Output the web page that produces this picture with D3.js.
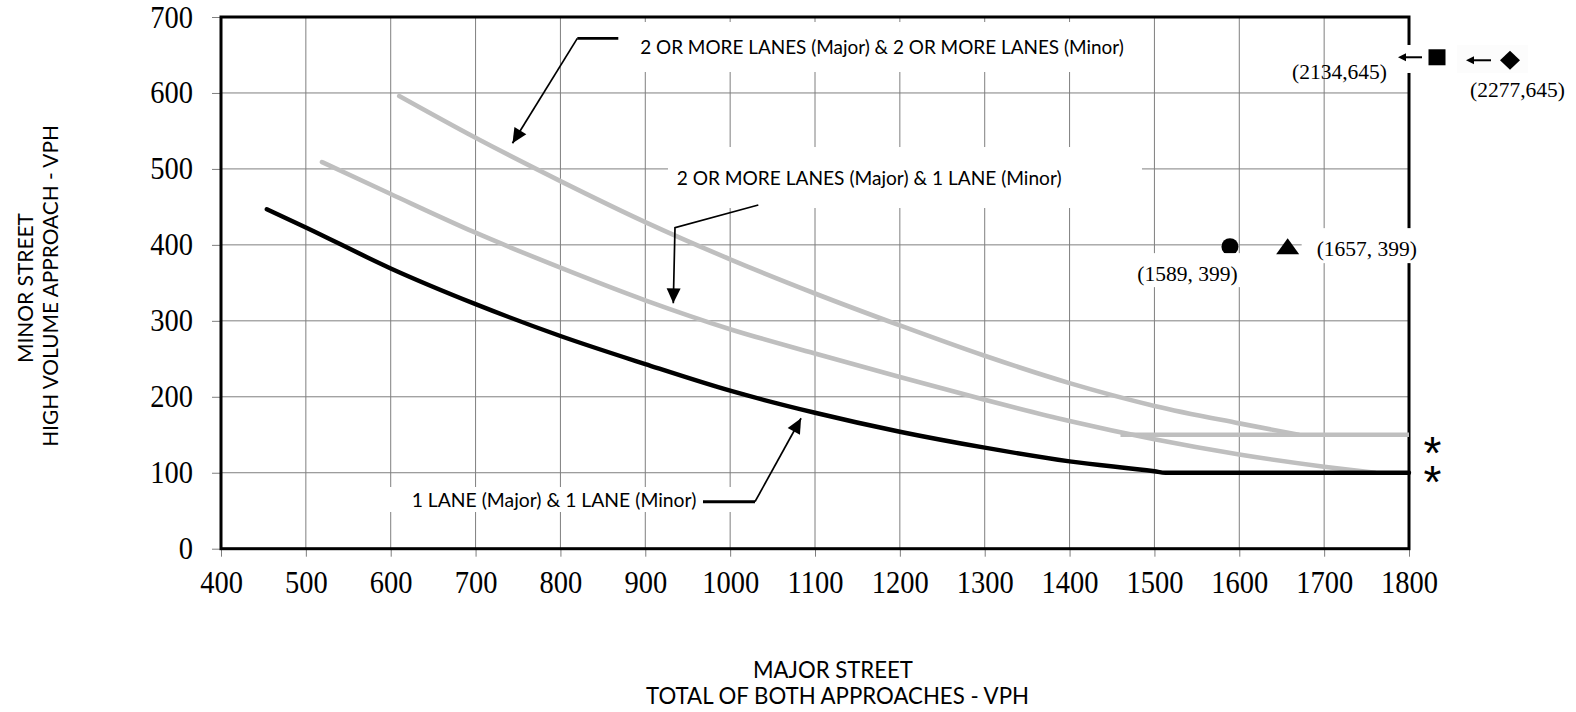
<!DOCTYPE html>
<html><head><meta charset="utf-8">
<script src="https://cdn.jsdelivr.net/npm/d3@7"></script>
<style>
html,body{margin:0;padding:0;background:#fff;}
svg{display:block;}
</style></head><body>
<svg id="chart" width="1576" height="712"></svg>
<script>
// ---------- DATA ----------
const xTicks = [400, 500, 600, 700, 800, 900, 1000, 1100, 1200, 1300, 1400, 1500, 1600, 1700, 1800];
const yTicks = [0, 100, 200, 300, 400, 500, 600, 700];

// 1 LANE (Major) & 1 LANE (Minor)
const curveOneOne = [[454, 447], [500, 423], [600, 369], [700, 322], [800, 280], [900, 243], [1000, 208],
  [1100, 179], [1200, 154], [1300, 133], [1400, 115], [1500, 102], [1513, 100], [1800, 100]];
// 2 OR MORE LANES (Major) & 1 LANE (Minor)
const curveTwoOne = [[519, 509], [600, 467], [700, 416], [800, 370], [900, 327], [1000, 289], [1100, 257],
  [1200, 226], [1300, 196], [1400, 168], [1500, 144], [1600, 124], [1700, 108], [1760, 100]];
// 2 OR MORE LANES (Major) & 2 OR MORE LANES (Minor)
const curveTwoTwo = [[610, 596], [700, 541], [800, 484], [900, 430], [1000, 381], [1100, 336], [1200, 294],
  [1300, 254], [1400, 218], [1500, 188], [1600, 165], [1670, 150]];
const floorTwoTwo = [[1460, 150], [1800, 150]];

const pointLabels = ["(1589, 399)", "(1657, 399)"];
const pointX = [1589, 1657];
const pointY = [399, 399];
const offScaleLabels = ["(2134,645)", "(2277,645)"];
const offScaleX = [2134, 2277];
const offScaleY = [645, 645];
const thresholdValues = [150, 100];

const annotationTexts = [
  "2 OR MORE LANES (Major) & 2 OR MORE LANES (Minor)",
  "2 OR MORE LANES (Major) & 1 LANE (Minor)",
  "1 LANE (Major) & 1 LANE (Minor)"
];
const xTitle = ["MAJOR STREET", "TOTAL OF BOTH APPROACHES - VPH"];
const yTitle = ["MINOR STREET", "HIGH VOLUME APPROACH - VPH"];

// ---------- LAYOUT ----------
const W = 1576, H = 712;
const margin = {top: 17, right: 167, bottom: 163.3, left: 221};
const serif = "'Liberation Serif','Times New Roman',serif";
const sans = "Lato,'Open Sans','Liberation Sans',sans-serif";
const gridColor = "#7f7f7f", lightGray = "#bfbfbf";

const svg = d3.select("#chart");
const x = d3.scaleLinear().domain([400, 1800]).range([margin.left, W - margin.right]);
const y = d3.scaleLinear().domain([0, 700]).range([H - margin.bottom, margin.top]);

svg.append("rect").attr("width", W).attr("height", H).attr("fill", "#fff");

// grid
const grid = svg.append("g").attr("stroke", gridColor).attr("stroke-width", 1);
grid.selectAll("line.v").data(xTicks.slice(1, -1)).join("line").attr("class", "v")
  .attr("x1", d => x(d)).attr("x2", d => x(d)).attr("y1", y(0)).attr("y2", y(700));
grid.selectAll("line.h").data(yTicks.slice(1, -1)).join("line").attr("class", "h")
  .attr("y1", d => y(d)).attr("y2", d => y(d)).attr("x1", x(400)).attr("x2", x(1800));

// axes
const gx = svg.append("g").attr("transform", `translate(0,${y(0)})`)
  .call(d3.axisBottom(x).tickValues(xTicks).tickSize(8).tickFormat(d3.format("d")));
gx.select(".domain").remove();
gx.selectAll(".tick line").attr("stroke", gridColor);
gx.selectAll(".tick text").attr("y", 0).attr("dy", null)
  .attr("transform", "translate(0,44) scale(1,1.08)")
  .attr("font-family", serif).attr("font-size", 28.5).attr("fill", "#000");

const gy = svg.append("g").attr("transform", `translate(${x(400)},0)`)
  .call(d3.axisLeft(y).tickValues(yTicks).tickSize(9).tickPadding(19).tickFormat(d3.format("d")));
gy.select(".domain").remove();
gy.selectAll(".tick line").attr("stroke", gridColor);
gy.selectAll(".tick text").attr("x", 0).attr("dy", null)
  .attr("transform", "translate(-28,10) scale(1,1.08)")
  .attr("font-family", serif).attr("font-size", 28.5).attr("fill", "#000");

// frame
svg.append("rect").attr("x", x(400)).attr("y", y(700))
  .attr("width", x(1800) - x(400)).attr("height", y(0) - y(700))
  .attr("fill", "none").attr("stroke", "#000").attr("stroke-width", 3);

// curves
const line = d3.line().x(d => x(d[0])).y(d => y(d[1])).curve(d3.curveMonotoneX);
const curves = svg.append("g").attr("fill", "none").attr("stroke-linecap", "round").attr("stroke-linejoin", "round");
curves.append("path").attr("d", line(curveTwoTwo)).attr("stroke", lightGray).attr("stroke-width", 4.6);
curves.append("path").attr("d", line(floorTwoTwo)).attr("stroke", lightGray).attr("stroke-width", 4.6).attr("stroke-linecap", "butt");
curves.append("path").attr("d", line(curveTwoOne)).attr("stroke", lightGray).attr("stroke-width", 4.6);
curves.append("path").attr("d", line(curveOneOne)).attr("stroke", "#000").attr("stroke-width", 4.4);

// in-chart markers
svg.append("circle").attr("cx", x(pointX[0])).attr("cy", y(pointY[0]) + 1).attr("r", 8.5).attr("fill", "#000");
{
  const cx = x(pointX[1]), cy = y(pointY[1]);
  svg.append("path").attr("d", `M${cx},${cy - 7.5}L${cx + 11.5},${cy + 8.5}L${cx - 11.5},${cy + 8.5}Z`).attr("fill", "#000");
}

// white label backgrounds
function box(x0, y0, x1, y1, fill) {
  svg.append("rect").attr("x", x0).attr("y", y0).attr("width", x1 - x0).attr("height", y1 - y0).attr("fill", fill || "#fff");
}
const lp0 = [x(pointX[0]) - 42.5, y(pointY[0]) + 35.5];
const lp1 = [x(pointX[1]) + 29, y(pointY[1]) + 10.5];
box(lp0[0] - 52.5, lp0[1] - 28, lp0[0] + 54.5, lp0[1] + 6);
box(lp1[0] - 15, lp1[1] - 28, lp1[0] + 105, lp1[1] + 7);

// off-scale markers (beyond 1800)
const sq = [x(1800) + 28, y(offScaleY[0]) - 1.5];
const dm = [x(1800) + 101, y(offScaleY[1]) + 1.5];
box(sq[0] - 44, sq[1] - 12.3, sq[0] + 18, sq[1] + 15.7);
box(dm[0] - 53, dm[1] - 15.3, dm[0] + 18, dm[1] + 12.7, "#fcfcfc");
svg.append("rect").attr("x", sq[0] - 8.5).attr("y", sq[1] - 8).attr("width", 17).attr("height", 16).attr("fill", "#000");
svg.append("path").attr("d", `M${dm[0]},${dm[1] - 9.5}L${dm[0] + 10},${dm[1]}L${dm[0]},${dm[1] + 9.5}L${dm[0] - 10},${dm[1]}Z`).attr("fill", "#000");

function smallArrow(x1, x2, yy) {
  svg.append("line").attr("x1", x1).attr("x2", x2 + 5).attr("y1", yy).attr("y2", yy).attr("stroke", "#000").attr("stroke-width", 2);
  svg.append("path").attr("d", `M${x2},${yy}L${x2 + 8},${yy - 4}L${x2 + 8},${yy + 4}Z`).attr("fill", "#000");
}
smallArrow(sq[0] - 15, sq[0] - 39, sq[1]);
smallArrow(dm[0] - 19, dm[0] - 44, dm[1]);

// point labels
svg.append("text").attr("x", lp0[0]).attr("y", lp0[1]).attr("text-anchor", "middle")
  .attr("font-family", serif).attr("font-size", 21.5).text(pointLabels[0]);
svg.append("text").attr("x", lp1[0]).attr("y", lp1[1]).attr("text-anchor", "start")
  .attr("font-family", serif).attr("font-size", 21.5).text(pointLabels[1]);
svg.append("text").attr("x", x(1800) - 22).attr("y", y(offScaleY[0]) + 20).attr("text-anchor", "end")
  .attr("font-family", serif).attr("font-size", 21.5).text(offScaleLabels[0]);
svg.append("text").attr("x", x(1800) + 156).attr("y", y(offScaleY[1]) + 38).attr("text-anchor", "end")
  .attr("font-family", serif).attr("font-size", 21.5).text(offScaleLabels[1]);

// asterisks at the threshold lines: one text element, per-glyph positions
const starX = thresholdValues.map(() => x(1800) + 21 - 6.4);
const starY = thresholdValues.map((d, i) => y(d) + (i === 0 ? 8 : -1) + 26);
svg.append("text").attr("x", starX.join(" ")).attr("y", starY.join(" "))
  .attr("font-family", "'Liberation Sans',Arial,sans-serif").attr("font-size", 46)
  .text(thresholdValues.map(() => "*").join(""));

// fit helper
function fit(sel, target) {
  const w = sel.node().getComputedTextLength();
  const fs = parseFloat(sel.attr("font-size"));
  sel.attr("font-size", fs * target / w);
  return sel;
}

// annotations (anchors in data units)
const annos = [
  {text: annotationTexts[0], at: [894, 651.3], width: 484, boxPad: [-10, -32, 500, 18],
   ledger: [[868.2, 671.9], [819.9, 671.9]], lead: [[819.9, 671.9], [743.5, 533.7]], ledgerW: 2.6},
  {text: annotationTexts[1], at: [937.0, 478.8], width: 385, boxPad: [-8.7, -38, 465.3, 23],
   ledger: null, lead: [[1033.2, 452.5], [935.0, 422.6], [933.0, 323.1]], ledgerW: 1.8},
  {text: annotationTexts[2], at: [624.7, 55.3], width: 285, boxPad: [-28.7, -19.7, 348.3, 5.3],
   ledger: [[968.0, 61.9], [1029.3, 61.9]], lead: [[1029.3, 61.9], [1083.6, 171.7]], ledgerW: 3}
];
annos.forEach(a => {
  const ax = x(a.at[0]), ay = y(a.at[1]);
  box(ax + a.boxPad[0], ay + a.boxPad[1], ax + a.boxPad[2], ay + a.boxPad[3]);
});
annos.forEach(a => {
  const ax = x(a.at[0]), ay = y(a.at[1]);
  const t = svg.append("text").attr("x", ax).attr("y", ay).attr("font-family", sans)
    .attr("font-size", 20).attr("fill", "#000").text(a.text);
  fit(t, a.width);
  const pl = d3.line().x(d => x(d[0])).y(d => y(d[1]));
  if (a.ledger) svg.append("path").attr("d", pl(a.ledger)).attr("fill", "none").attr("stroke", "#000").attr("stroke-width", a.ledgerW);
  svg.append("path").attr("d", pl(a.lead)).attr("fill", "none").attr("stroke", "#000").attr("stroke-width", 1.7).attr("stroke-linejoin", "miter");
  // arrowhead
  const p1 = a.lead[a.lead.length - 2], p2 = a.lead[a.lead.length - 1];
  const x1 = x(p1[0]), y1 = y(p1[1]), x2 = x(p2[0]), y2 = y(p2[1]);
  const ang = Math.atan2(y2 - y1, x2 - x1);
  const L = 15, hw = 7;
  const bx = x2 - L * Math.cos(ang), by = y2 - L * Math.sin(ang);
  const px = -Math.sin(ang) * hw, py = Math.cos(ang) * hw;
  svg.append("path").attr("d", `M${x2},${y2}L${bx + px},${by + py}L${bx - px},${by - py}Z`).attr("fill", "#000");
});

// axis titles
function titleBlock(lines, widths, place) {
  lines.forEach((s, i) => {
    const t = svg.append("text").attr("font-family", sans).attr("font-size", 20).attr("text-anchor", "middle")
      .attr("transform", place.transform).attr("x", place.x[i]).attr("y", place.y[i]).text(s);
    fit(t, widths[i]);
  });
}
titleBlock(xTitle, [160, 383], {transform: null, x: [833, 837.5], y: [677.5, 703.5]});
titleBlock(yTitle, [150, 322], {transform: "rotate(-90)", x: [-288, -286], y: [33, 58]});
</script>
</body></html>
